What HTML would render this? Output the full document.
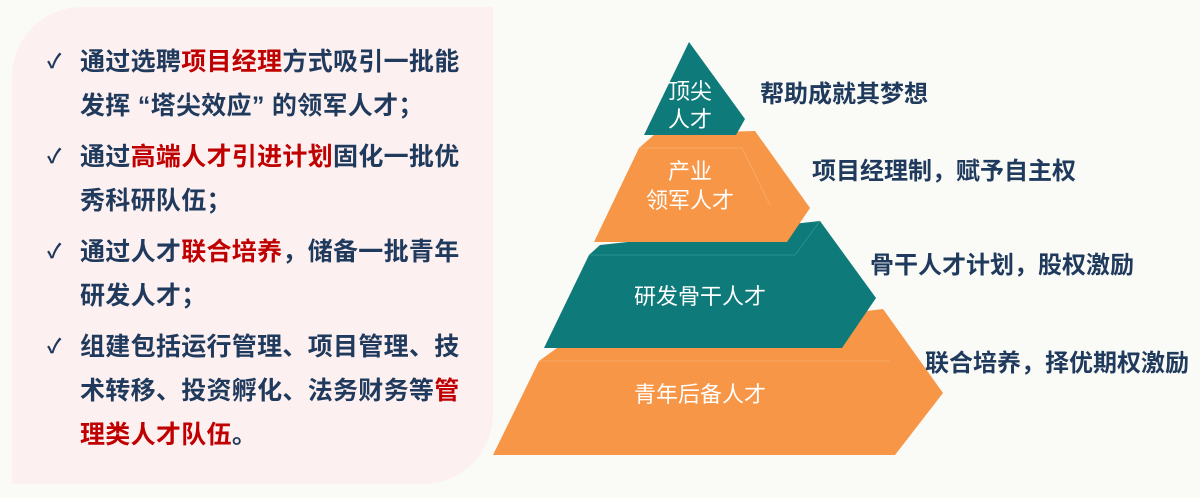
<!DOCTYPE html>
<html><head><meta charset="utf-8"><style>
html,body{margin:0;padding:0}
body{width:1200px;height:498px;background:#fafaf6;position:relative;overflow:hidden;font-family:"Liberation Sans","Noto Sans CJK SC",sans-serif}
.panel{position:absolute;left:12px;top:7px;width:481px;height:477px;background:#fdf0f0;border-radius:70px 0 70px 0}
.l{position:absolute;left:80px;font-size:25px;font-weight:bold;color:#1f3a5c;white-space:nowrap;line-height:30px;letter-spacing:0.3px}
.r{color:#c00000}
.ck{position:absolute;left:47px;font-size:20px;font-weight:bold;color:#1f3a5c;line-height:30px}
.t{position:absolute;font-size:24px;font-weight:bold;color:#1f3a5c;white-space:nowrap;line-height:28px}
.w{position:absolute;color:#fff;font-size:22px;text-align:center;white-space:nowrap;line-height:27px}
</style></head><body>
<div class="panel"></div>
<div class="ck" style="top:47px">✓</div>
<div class="l" style="top:47px">通过选聘<span class="r">项目经理</span>方式吸引一批能</div>
<div class="l" style="top:91px">发挥 “塔尖效应” 的领军人才；</div>
<div class="ck" style="top:142px">✓</div>
<div class="l" style="top:142px">通过<span class="r">高端人才引进计划</span>固化一批优</div>
<div class="l" style="top:186px">秀科研队伍；</div>
<div class="ck" style="top:237px">✓</div>
<div class="l" style="top:237px">通过人才<span class="r">联合培养</span>，储备一批青年</div>
<div class="l" style="top:281px">研发人才；</div>
<div class="ck" style="top:332px">✓</div>
<div class="l" style="top:332px">组建包括运行管理、项目管理、技</div>
<div class="l" style="top:376px">术转移、投资孵化、法务财务等<span class="r">管</span></div>
<div class="l" style="top:420px"><span class="r">理类人才队伍</span>。</div>

<svg width="1200" height="498" style="position:absolute;left:0;top:0">
<polygon points="493,455 539,361 557,348 883,309 943,393 895,455" fill="#f79646"/>
<polyline points="539,361 890,361" stroke="#f9a865" stroke-width="1" fill="none"/>
<polygon points="544,348 589,255 600,245 820,221 876,298 842,348" fill="#0e7a7a"/>
<polyline points="589,255 795,255 820,221" stroke="#2a9090" stroke-width="1" fill="none"/>
<polygon points="594,242 639,148 655,134 755,131 810,208 787,242" fill="#f79646"/>
<polyline points="639,148 742,148 770,205" stroke="#f9a865" stroke-width="1" fill="none"/>
<polygon points="689,42 745,119 736,135 644,135" fill="#0e7a7a"/>
</svg>
<div class="w" style="left:640px;top:78px;width:100px">顶尖</div>
<div class="w" style="left:640px;top:106px;width:100px">人才</div>
<div class="w" style="left:640px;top:158px;width:100px">产业</div>
<div class="w" style="left:640px;top:187px;width:100px">领军人才</div>
<div class="w" style="left:600px;top:283px;width:200px">研发骨干人才</div>
<div class="w" style="left:600px;top:381px;width:200px">青年后备人才</div>
<div class="t" style="left:760px;top:81px">帮助成就其梦想</div>
<div class="t" style="left:812px;top:158px">项目经理制，赋予自主权</div>
<div class="t" style="left:870px;top:252px">骨干人才计划，股权激励</div>
<div class="t" style="left:925px;top:350px">联合培养，择优期权激励</div>
</body></html>
